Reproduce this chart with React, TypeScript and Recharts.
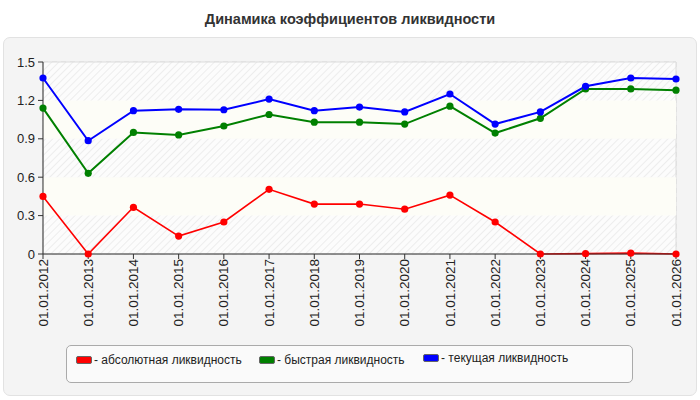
import {
  LineChart,
  Line,
  XAxis,
  YAxis,
  CartesianGrid,
  ReferenceArea,
} from 'recharts'

const dates = [
  '01.01.2012', '01.01.2013', '01.01.2014', '01.01.2015', '01.01.2016',
  '01.01.2017', '01.01.2018', '01.01.2019', '01.01.2020', '01.01.2021',
  '01.01.2022', '01.01.2023', '01.01.2024', '01.01.2025', '01.01.2026',
]
const absolute = [0.45, 0, 0.365, 0.14, 0.25, 0.505, 0.39, 0.39, 0.35, 0.46, 0.25, 0, 0.003, 0.007, 0]
const quick = [1.14, 0.63, 0.95, 0.93, 1.0, 1.09, 1.03, 1.03, 1.015, 1.155, 0.945, 1.06, 1.29, 1.29, 1.28]
const current = [1.375, 0.885, 1.12, 1.13, 1.127, 1.21, 1.12, 1.148, 1.11, 1.25, 1.015, 1.11, 1.31, 1.375, 1.367]
const yTicks = [0, 0.3, 0.6, 0.9, 1.2, 1.5]
const plainBands = [[0.3, 0.6], [0.9, 1.2]]

const series = [
  { key: 'absolute', name: 'абсолютная ликвидность', color: '#ff0000', width: 1.6 },
  { key: 'quick', name: 'быстрая ликвидность', color: '#008000', width: 2 },
  { key: 'current', name: 'текущая ликвидность', color: '#0000ff', width: 2 },
]

const data = dates.map((d, i) => ({
  date: d,
  absolute: absolute[i],
  quick: quick[i],
  current: current[i],
}))

const font = '"Liberation Sans", Arial, sans-serif'

function LegendBox() {
  const offsets = [0, 183, 347]
  return (
    <div
      style={{
        position: 'absolute',
        left: 66,
        top: 345,
        width: 565,
        height: 36,
        border: '1px solid #aaa',
        borderRadius: 5,
        background: '#fafafa',
        fontFamily: font,
        fontSize: 12,
        color: '#222',
      }}
    >
      {series.map((s, i) => (
        <div
          key={s.key}
          style={{
            position: 'absolute',
            left: 9 + offsets[i],
            top: i === 2 ? 5 : 7,
            display: 'flex',
            alignItems: 'center',
            whiteSpace: 'nowrap',
          }}
        >
          <span
            style={{
              display: 'inline-block',
              width: 14,
              height: 6,
              background: s.color,
              border: '1px solid #666',
              borderRadius: 2,
              marginRight: 2,
            }}
          />
          - {s.name}
        </div>
      ))}
    </div>
  )
}

export default function App() {
  return (
    <div style={{ position: 'absolute', left: 0, top: 0, width: 700, height: 400, background: '#fff' }}>
      <div
        style={{
          position: 'absolute',
          left: 0,
          top: 11,
          width: 700,
          textAlign: 'center',
          fontFamily: font,
          fontWeight: 'bold',
          fontSize: 14.5,
          color: '#333',
        }}
      >
        Динамика коэффициентов ликвидности
      </div>
      <div
        style={{
          position: 'absolute',
          left: 3,
          top: 37,
          width: 692,
          height: 357,
          background: '#f4f4f4',
          border: '1px solid #e2e2e2',
          borderRadius: 7,
        }}
      />
      <div style={{ position: 'absolute', left: 0, top: 0 }}>
        <LineChart
          width={700}
          height={400}
          data={data}
          margin={{ top: 62, right: 24, left: 8, bottom: 66 }}
        >
          <defs>
            <pattern id="hatch" width="5" height="5" patternUnits="userSpaceOnUse" patternTransform="rotate(45)">
              <rect width="5" height="5" fill="#fcfcfc" />
              <line x1="0" y1="0" x2="0" y2="5" stroke="#e4e4e4" strokeWidth="1.2" />
            </pattern>
          </defs>
          <ReferenceArea y1={0} y2={1.5} fill="url(#hatch)" fillOpacity={1} stroke="#dcdcdc" ifOverflow="visible" />
          {plainBands.map(([a, b]) => (
            <ReferenceArea key={a} y1={a} y2={b} fill="#fdfdf7" fillOpacity={1} stroke="none" />
          ))}
          <CartesianGrid stroke="#dadada" strokeDasharray="5 4" />
          <XAxis
            dataKey="date"
            interval={0}
            angle={-90}
            textAnchor="end"
            height={80}
            tickSize={5}
            tickMargin={4}
            dy={-4}
            dx={-5}
            stroke="#333"
            tick={{ fill: '#222', fontSize: 13.5, fontFamily: font }}
          />
          <YAxis
            domain={[0, 1.5]}
            ticks={yTicks}
            width={35}
            tickSize={5}
            tickMargin={3}
            stroke="#333"
            tick={{ fill: '#222', fontSize: 13, fontFamily: font }}
          />
          {series.map((s) => (
            <Line
              key={s.key}
              dataKey={s.key}
              name={s.name}
              type="linear"
              stroke={s.color}
              strokeWidth={s.width}
              dot={{ r: 3.6, fill: s.color, stroke: s.color, strokeWidth: 0 }}
              isAnimationActive={false}
            />
          ))}
        </LineChart>
      </div>
      <LegendBox />
    </div>
  )
}
